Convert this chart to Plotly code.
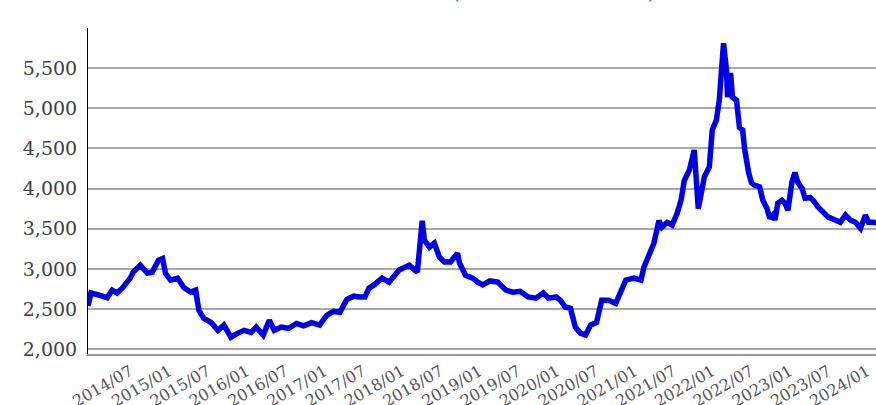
import plotly.graph_objects as go

# Price series (approximate)
dates = [
    '2013-12-14', '2013-12-28', '2014-02-09', '2014-03-14', '2014-04-07', '2014-04-30',
    '2014-05-24', '2014-07-01', '2014-07-15', '2014-08-17', '2014-09-20', '2014-10-13',
    '2014-11-11', '2014-11-30', '2014-12-14', '2015-01-07', '2015-02-09', '2015-03-09',
    '2015-04-12', '2015-05-05', '2015-05-20', '2015-06-12', '2015-07-15', '2015-08-18',
    '2015-09-15', '2015-10-18', '2015-11-20', '2015-12-19', '2016-01-21', '2016-02-14',
    '2016-03-18', '2016-04-16', '2016-05-09', '2016-06-11', '2016-07-15', '2016-08-22',
    '2016-09-24', '2016-11-01', '2016-12-09', '2017-01-11', '2017-02-13', '2017-03-14',
    '2017-04-16', '2017-05-19', '2017-06-16', '2017-07-10', '2017-07-29', '2017-08-22',
    '2017-09-29', '2017-11-01', '2017-12-18', '2018-02-04', '2018-03-14', '2018-04-06',
    '2018-04-16', '2018-05-10', '2018-06-02', '2018-06-26', '2018-07-20', '2018-08-17',
    '2018-09-19', '2018-09-29', '2018-10-27', '2018-11-30', '2018-12-23', '2019-01-16',
    '2019-02-18', '2019-03-28', '2019-05-05', '2019-06-07', '2019-07-11', '2019-08-17',
    '2019-09-24', '2019-10-28', '2019-11-20', '2019-12-28', '2020-01-16', '2020-02-09',
    '2020-03-04', '2020-03-27', '2020-04-20', '2020-05-14', '2020-06-07', '2020-07-05',
    '2020-07-29', '2020-08-31', '2020-10-03', '2020-10-27', '2020-11-20', '2020-12-28',
    '2021-01-30', '2021-02-13', '2021-03-18', '2021-04-01', '2021-04-25', '2021-05-09',
    '2021-06-02', '2021-06-26', '2021-07-19', '2021-08-07', '2021-08-22', '2021-09-15',
    '2021-10-08', '2021-10-18', '2021-10-27', '2021-11-25', '2021-12-18', '2022-01-01',
    '2022-01-20', '2022-02-03', '2022-02-23', '2022-03-09', '2022-03-14', '2022-03-28',
    '2022-04-06', '2022-04-25', '2022-05-09', '2022-05-24', '2022-06-02', '2022-06-21',
    '2022-07-05', '2022-07-20', '2022-08-12', '2022-08-27', '2022-09-15', '2022-09-29',
    '2022-10-13', '2022-10-23', '2022-11-06', '2022-11-25', '2022-12-09', '2022-12-23',
    '2023-01-11', '2023-01-25', '2023-02-09', '2023-02-28', '2023-03-14', '2023-04-07',
    '2023-04-21', '2023-05-14', '2023-06-07', '2023-07-01', '2023-08-03', '2023-08-27',
    '2023-09-20', '2023-10-13', '2023-11-06', '2023-11-30', '2023-12-23', '2024-01-07',
    '2024-01-30', '2024-02-23',
]
prices = [
    2540, 2700, 2670, 2640, 2735, 2700,
    2760, 2885, 2960, 3045, 2945, 2960,
    3110, 3130, 2945, 2860, 2885, 2770,
    2710, 2735, 2485, 2385, 2335, 2235,
    2300, 2150, 2200, 2235, 2210, 2275,
    2175, 2360, 2235, 2275, 2260, 2320,
    2290, 2330, 2300, 2420, 2470, 2460,
    2620, 2660, 2650, 2650, 2760, 2800,
    2885, 2835, 2985, 3045, 2960, 3600,
    3360, 3270, 3320, 3145, 3085, 3085,
    3195, 3070, 2920, 2885, 2835, 2800,
    2850, 2835, 2735, 2710, 2720, 2650,
    2635, 2700, 2635, 2650, 2610, 2525,
    2510, 2275, 2200, 2175, 2300, 2335,
    2610, 2610, 2570, 2735, 2860, 2885,
    2860, 3020, 3230, 3320, 3600, 3520,
    3580, 3545, 3690, 3855, 4100, 4230,
    4480, 4100, 3750, 4150, 4270, 4730,
    4850, 5100, 5810, 5470, 5140, 5440,
    5140, 5100, 4760, 4730, 4500, 4200,
    4070, 4040, 4020, 3855, 3755, 3630,
    3670, 3610, 3820, 3855, 3820, 3730,
    4080, 4200, 4070, 4000, 3880, 3890,
    3855, 3770, 3705, 3645, 3610, 3580,
    3670, 3610, 3580, 3505, 3670, 3580,
    3580, 3570,
]

# half-yearly date ticks shown on the x axis
x_ticks = ['%d-%02d-01' % (y, m) for y in range(2014, 2025) for m in (1, 7)][1:-1]
x_labels = [t[:7].replace('-', '/') for t in x_ticks]

y_ticks = [2000, 2500, 3000, 3500, 4000, 4500, 5000, 5500, 6000]
y_labels = ['2,000', '2,500', '3,000', '3,500', '4,000', '4,500', '5,000', '5,500', '']

fig = go.Figure()
fig.add_trace(go.Scatter(
    x=dates,
    y=prices,
    mode='lines',
    line=dict(color='#0000e6', width=5.5),
    hoverinfo='x+y',
))

# title is cut off at the top of the picture, only the bottom of the brackets shows
for px_x, ch in [(0.467, '('), (0.715, ')')]:
    fig.add_annotation(
        x=px_x, y=1.069, xref='paper', yref='paper',
        xanchor='center', yanchor='bottom',
        text=ch, showarrow=False,
        font=dict(family='DejaVu Sans', size=24, color='#3a9ea0'),
    )

fig.update_xaxes(
    type='date',
    range=['2013-12-14', '2024-02-11'],
    tickvals=x_ticks,
    ticktext=x_labels,
    tickangle=-30,
    tickfont=dict(family='DejaVu Serif', size=16, color='#555555'),
    showgrid=False,
    showline=True,
    linecolor='#999999',
    linewidth=2,
    ticks='',
    automargin=False,
)
fig.update_yaxes(
    range=[1940, 6000],
    tickvals=y_ticks,
    ticktext=y_labels,
    tickfont=dict(family='DejaVu Serif', size=19, color='#404040'),
    showgrid=True,
    gridcolor='#a8a8a8',
    gridwidth=2,
    showline=True,
    linecolor='#000000',
    linewidth=1,
    ticks='',
    ticklabelstandoff=6,
    zeroline=False,
    automargin=False,
)
fig.update_layout(
    width=876, height=405,
    margin=dict(l=88, r=0, t=28, b=51),
    plot_bgcolor='white',
    paper_bgcolor='white',
    showlegend=False,
)

# drop the default page margin so the figure sits at the window's corner
fig.write_html('out.html', config={'displayModeBar': False},
               post_script="document.body.style.margin='0';")
